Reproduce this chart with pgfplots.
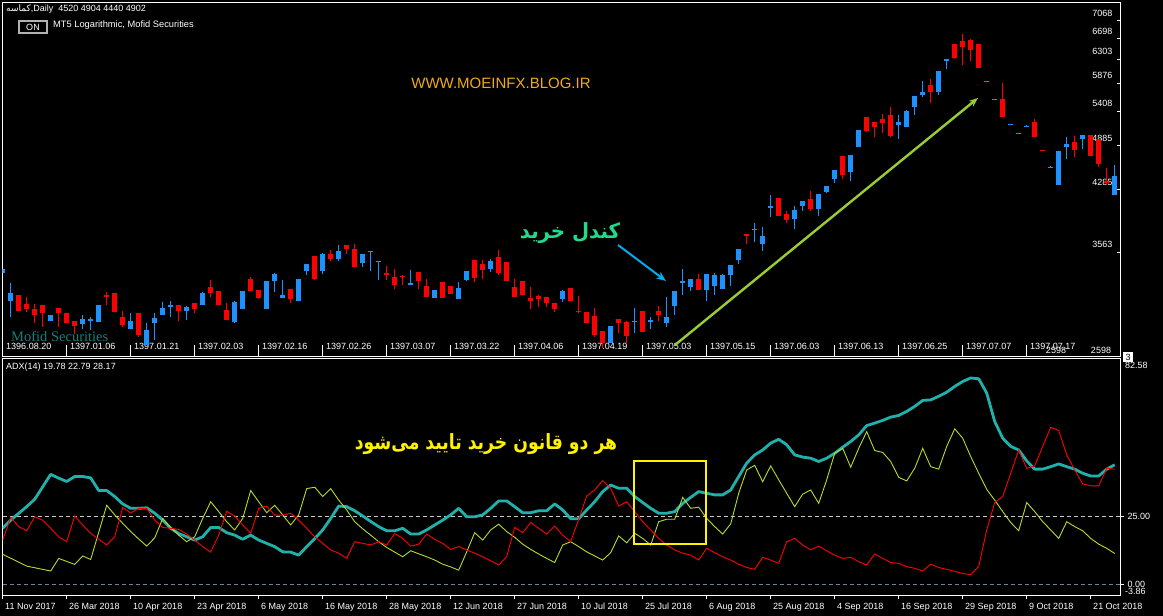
\documentclass[border=0pt]{standalone}
\usepackage{fontspec}
\setmainfont{Liberation Sans}
\newfontfamily\arabicfont[Script=Arabic]{DejaVu Sans}
\newfontfamily\seriffont{Liberation Serif}
\usepackage{graphicx}
\usepackage{pgfplots}
\pgfplotsset{compat=1.18}
\usetikzlibrary{arrows.meta}
\TeXXeTstate=1
\newcommand{\fs}[1]{\fontsize{#1}{#1}\selectfont}
\definecolor{upc}{RGB}{30,144,255}
\definecolor{dnc}{RGB}{255,0,0}
\definecolor{adxc}{RGB}{32,178,170}
\definecolor{pdic}{RGB}{180,220,45}
\definecolor{lvl}{RGB}{200,200,200}
\definecolor{zlvl}{RGB}{112,128,160}
\definecolor{urlc}{RGB}{240,170,20}
\definecolor{buyc}{RGB}{30,220,140}
\definecolor{arrc}{RGB}{154,205,50}
\definecolor{mofidc}{RGB}{25,125,125}

\begin{document}
\begin{tikzpicture}[x=1pt,y=1pt]
\fill[black] (0,0) rectangle (1163,616);

% price panel
\begin{axis}[
  at={(2.7pt,260pt)}, anchor=south west,
  scale only axis, width=1117.3pt, height=353.3pt,
  xmin=0, xmax=139.66,
  ymode=log, ymin=2619, ymax=7455,
  axis line style={white, line width=0.8pt},
  tick style={white, line width=0.8pt},
  major tick length=3pt, tick align=inside,
  xtick pos=bottom, ytick pos=right,
  xtick=\empty,
  extra x ticks={0,8,...,128},
  extra x tick labels={1396.08.20,1397.01.06,1397.01.21,1397.02.03,1397.02.16,1397.02.26,1397.03.07,1397.03.22,1397.04.06,1397.04.19,1397.05.03,1397.05.15,1397.06.03,1397.06.13,1397.06.25,1397.07.07,1397.07.17},
  extra x tick style={major tick length=11pt, tick align=inside, xticklabel style={anchor=south west, xshift=0pt, yshift=1pt, text height=6.5pt, text depth=1.5pt}},
  ytick={3563,4285,4885,5408,5876,6303,6698,7068},
  yticklabels={3563,4285,4885,5408,5876,6303,6698,7068},
  yticklabel style={anchor=east, xshift=-4pt, yshift=7.5pt},
  ticklabel style={text=white, font=\fs{9}},
  unbounded coords=jump, no markers,
]
% down candles: wicks
\addplot[dnc, line width=1pt] coordinates {
(2,3135)(2,2995)(2,nan) (3,3122)(3,2986)(3,nan) (4,3055)(4,2890)(4,nan) (5,3043)(5,2856)(5,nan)
(7,3019)(7,2856)(7,nan) (8,2972)(8,2890)(8,nan) (9,2907)(9,2795)(9,nan) (13,3165)(13,3049)(13,nan)
(14,3159)(14,2983)(14,nan) (15,2990)(15,2851)(15,nan) (17,2972)(17,2768)(17,nan) (22,3043)(22,2907)(22,nan)
(24,3061)(24,2972)(24,nan) (26,3280)(26,3122)(26,nan) (27,3172)(27,3043)(27,nan) (28,3067)(28,2913)(28,nan)
(31,3312)(31,3177)(31,nan) (32,3184)(32,3097)(32,nan) (36,3191)(36,3067)(36,nan) (39,3522)(39,3280)(39,nan)
(41,3584)(41,3473)(41,nan) (43,3635)(43,3542)(43,nan) (44,3645)(44,3412)(44,nan) (48,3416)(48,3283)(48,nan)
(49,3385)(49,3191)(49,nan) (50,3332)(50,3229)(50,nan) (52,3358)(52,3196)(52,nan) (53,3287)(53,3122)(53,nan)
(55,3261)(55,3110)(55,nan) (56,3222)(56,3147)(56,nan) (59,3480)(59,3261)(59,nan) (60,3480)(60,3287)(60,nan)
(62,3584)(62,3326)(62,nan) (63,3460)(63,3273)(63,nan) (64,3287)(64,3122)(64,nan) (65,3267)(65,3135)(65,nan)
(66,3216)(66,3013)(66,nan) (67,3135)(67,3031)(67,nan) (68,3116)(68,3031)(68,nan) (69,3061)(69,2983)(69,nan)
(71,3203)(71,3079)(71,nan) (72,3128)(72,2972)(72,nan) (73,2983)(73,2885)(73,nan) (74,3019)(74,2768)(74,nan)
(75,2817)(75,2682)(75,nan) (77,2924)(77,2806)(77,nan) (78,2907)(78,2724)(78,nan) (80,2995)(80,2812)(80,nan)
(82,3037)(82,2902)(82,nan) (87,3339)(87,3184)(87,nan) (93,3759)(93,3646)(93,nan) (97,4181)(97,3964)(97,nan)
(98,4020)(98,3886)(98,nan) (101,4265)(101,4027)(101,nan) (105,4735)(105,4427)(105,nan) (108,5310)(108,5084)(108,nan)
(109,5236)(109,5005)(109,nan) (110,5362)(110,5074)(110,nan) (111,5470)(111,5005)(111,nan) (116,5942)(116,5545)(116,nan)
(119,6597)(119,6316)(119,nan) (120,6796)(120,6194)(120,nan) (121,6689)(121,6267)(121,nan) (122,6597)(122,6145)(122,nan)
(125,5883)(125,5320)(125,nan) (129,5288)(129,5005)(129,nan) (130,4820)(130,4806)(130,nan) (134,5025)(134,4726)(134,nan)
(136,5035)(136,4735)(136,nan) (137,4984)(137,4588)(137,nan) (138,4570)(138,4358)(138,nan)
};
% up candles: wicks
\addplot[upc, line width=1pt] coordinates {
(0,3388)(0,3349)(0,nan) (1,3254)(1,2937)(1,nan) (6,2954)(6,2902)(6,nan) (10,2954)(10,2834)(10,nan)
(11,2937)(11,2828)(11,nan) (12,3043)(12,2896)(12,nan) (16,2977)(16,2839)(16,nan) (18,2890)(18,2708)(18,nan)
(19,2972)(19,2746)(19,nan) (20,3073)(20,2960)(20,nan) (21,3079)(21,2942)(21,nan) (23,3037)(23,2913)(23,nan)
(25,3165)(25,3049)(25,nan) (29,3085)(29,2890)(29,nan) (30,3172)(30,3007)(30,nan) (33,3267)(33,3013)(33,nan)
(34,3352)(34,3165)(34,nan) (35,3280)(35,3110)(35,nan) (37,3287)(37,3079)(37,nan) (38,3439)(38,3326)(38,nan)
(40,3550)(40,3339)(40,nan) (42,3641)(42,3467)(42,nan) (45,3542)(45,3409)(45,nan) (46,3571)(46,3371)(46,nan)
(47,3467)(47,3280)(47,nan) (51,3378)(51,3229)(51,nan) (54,3184)(54,3110)(54,nan) (57,3261)(57,3103)(57,nan)
(58,3365)(58,3267)(58,nan) (61,3494)(61,3358)(61,nan) (70,3184)(70,3073)(70,nan) (76,2862)(76,2724)(76,nan)
(79,3019)(79,2806)(79,nan) (81,2937)(81,2839)(81,nan) (83,3116)(83,2856)(83,nan) (84,3177)(84,2954)(84,nan)
(85,3385)(85,3135)(85,nan) (86,3287)(86,3177)(86,nan) (88,3339)(88,3085)(88,nan) (89,3346)(89,3135)(89,nan)
(90,3339)(90,3191)(90,nan) (91,3426)(91,3220)(91,nan) (92,3595)(92,3442)(92,nan) (94,3879)(94,3670)(94,nan)
(95,3834)(95,3577)(95,nan) (96,4215)(96,3956)(96,nan) (99,4083)(99,3818)(99,nan) (100,4148)(100,4027)(100,nan)
(102,4231)(102,3964)(102,nan) (103,4333)(103,4247)(103,nan) (104,4543)(104,4375)(104,nan) (106,4750)(106,4397)(106,nan)
(107,5114)(107,4868)(107,nan) (112,5342)(112,4984)(112,nan) (113,5426)(113,5165)(113,nan) (114,5656)(114,5342)(114,nan)
(115,5908)(115,5634)(115,nan) (117,6085)(117,5678)(117,nan) (118,6310)(118,6132)(118,nan) (123,5904)(123,5887)(123,nan)
(124,5606)(124,5589)(124,nan) (126,5206)(126,5191)(126,nan) (127,5069)(127,5054)(127,nan) (128,5191)(128,5156)(128,nan)
(131,4597)(131,4570)(131,nan) (132,4806)(132,4349)(132,nan) (133,5014)(133,4697)(133,nan) (135,5035)(135,4839)(135,nan)
(139,4615)(139,4222)(139,nan)
};
% down candles: bodies
\addplot[dnc, line width=5pt] coordinates {
(2,3135)(2,2995)(2,nan) (3,3055)(3,3013)(3,nan) (4,3007)(4,2960)(4,nan) (5,3043)(5,2977)(5,nan)
(7,3019)(7,2972)(7,nan) (8,2972)(8,2890)(8,nan) (9,2907)(9,2862)(9,nan) (13,3135)(13,3116)(13,nan)
(14,3159)(14,2983)(14,nan) (15,2942)(15,2873)(15,nan) (17,2972)(17,2785)(17,nan) (22,3043)(22,2995)(22,nan)
(24,3061)(24,3007)(24,nan) (26,3210)(26,3153)(26,nan) (27,3172)(27,3043)(27,nan) (28,3001)(28,2913)(28,nan)
(31,3293)(31,3177)(31,nan) (32,3184)(32,3110)(32,nan) (36,3191)(36,3103)(36,nan) (39,3522)(39,3293)(39,nan)
(41,3542)(41,3494)(41,nan) (43,3635)(43,3592)(43,nan) (44,3592)(44,3412)(44,nan) (48,3346)(48,3329)(48,nan)
(49,3309)(49,3235)(49,nan) (50,3319)(50,3306)(50,nan) (52,3358)(52,3273)(52,nan) (53,3222)(53,3122)(53,nan)
(55,3261)(55,3110)(55,nan) (56,3222)(56,3147)(56,nan) (59,3480)(59,3300)(59,nan) (60,3439)(60,3378)(60,nan)
(62,3514)(62,3346)(62,nan) (63,3460)(63,3273)(63,nan) (64,3210)(64,3122)(64,nan) (65,3267)(65,3135)(65,nan)
(66,3110)(66,3085)(66,nan) (67,3128)(67,3103)(67,nan) (68,3116)(68,3067)(68,nan) (69,3061)(69,3013)(69,nan)
(71,3203)(71,3079)(71,nan) (72,2990)(72,2981)(72,nan) (73,2983)(73,2885)(73,nan) (74,2948)(74,2790)(74,nan)
(75,2817)(75,2720)(75,nan) (77,2924)(77,2890)(77,nan) (78,2896)(78,2779)(78,nan) (80,2995)(80,2812)(80,nan)
(82,2995)(82,2960)(82,nan) (87,3287)(87,3184)(87,nan) (93,3759)(93,3740)(93,nan) (97,4181)(97,3964)(97,nan)
(98,3988)(98,3917)(98,nan) (101,4165)(101,4051)(101,nan) (105,4735)(105,4480)(105,nan) (108,5310)(108,5104)(108,nan)
(109,5236)(109,5165)(109,nan) (110,5288)(110,5226)(110,nan) (111,5342)(111,5025)(111,nan) (116,5838)(116,5723)(116,nan)
(119,6597)(119,6329)(119,nan) (120,6650)(120,6545)(120,nan) (121,6675)(121,6481)(121,nan) (122,6597)(122,6145)(122,nan)
(125,5601)(125,5320)(125,nan) (129,5236)(129,5005)(129,nan) (130,4820)(130,4806)(130,nan) (134,4936)(134,4820)(134,nan)
(136,5035)(136,4735)(136,nan) (137,4984)(137,4625)(137,nan) (138,4401)(138,4367)(138,nan)
};
% up candles: bodies
\addplot[upc, line width=5pt] coordinates {
(0,3388)(0,3349)(0,nan) (1,3159)(1,3085)(1,nan) (6,2954)(6,2902)(6,nan) (10,2924)(10,2879)(10,nan)
(11,2924)(11,2907)(11,nan) (12,3043)(12,2896)(12,nan) (16,2907)(16,2839)(16,nan) (18,2828)(18,2708)(18,nan)
(19,2931)(19,2890)(19,nan) (20,3019)(20,2960)(20,nan) (21,3043)(21,3031)(21,nan) (23,3025)(23,2995)(23,nan)
(25,3153)(25,3049)(25,nan) (29,3073)(29,2896)(29,nan) (30,3172)(30,3007)(30,nan) (33,3267)(33,3013)(33,nan)
(34,3339)(34,3267)(34,nan) (35,3135)(35,3110)(35,nan) (37,3287)(37,3079)(37,nan) (38,3439)(38,3365)(38,nan)
(40,3542)(40,3371)(40,nan) (42,3577)(42,3494)(42,nan) (45,3542)(45,3452)(45,nan) (46,3571)(46,3560)(46,nan)
(47,3467)(47,3457)(47,nan) (51,3254)(51,3229)(51,nan) (54,3184)(54,3110)(54,nan) (57,3203)(57,3103)(57,nan)
(58,3365)(58,3280)(58,nan) (61,3467)(61,3385)(61,nan) (70,3172)(70,3103)(70,nan) (76,2862)(76,2724)(76,nan)
(79,2902)(79,2893)(79,nan) (81,2913)(81,2896)(81,nan) (83,2937)(83,2890)(83,nan) (84,3177)(84,3037)(84,nan)
(85,3267)(85,3254)(85,nan) (86,3287)(86,3210)(86,nan) (88,3339)(88,3184)(88,nan) (89,3326)(89,3222)(89,nan)
(90,3326)(90,3191)(90,nan) (91,3426)(91,3332)(91,nan) (92,3595)(92,3483)(92,nan) (94,3818)(94,3803)(94,nan)
(95,3736)(95,3649)(95,nan) (96,4083)(96,4059)(96,nan) (99,4035)(99,3932)(99,nan) (100,4148)(100,4083)(100,nan)
(102,4231)(102,4051)(102,nan) (103,4333)(103,4256)(103,nan) (104,4543)(104,4427)(104,nan) (106,4750)(106,4516)(106,nan)
(107,5114)(107,4868)(107,nan) (112,5236)(112,5195)(112,nan) (113,5415)(113,5165)(113,nan) (114,5656)(114,5470)(114,nan)
(115,5723)(115,5668)(115,nan) (117,6085)(117,5723)(117,nan) (118,6310)(118,6267)(118,nan) (123,5904)(123,5887)(123,nan)
(124,5606)(124,5589)(124,nan) (126,5206)(126,5191)(126,nan) (127,5069)(127,5054)(127,nan) (128,5171)(128,5156)(128,nan)
(131,4584)(131,4570)(131,nan) (132,4806)(132,4349)(132,nan) (133,4907)(133,4859)(133,nan) (135,5035)(135,4984)(135,nan)
(139,4463)(139,4222)(139,nan)
};
\end{axis}

% ADX panel
\begin{axis}[
  at={(2.7pt,21pt)}, anchor=south west,
  scale only axis, width=1117.3pt, height=236.7pt,
  xmin=0, xmax=139.66, ymin=-3.86, ymax=82.58,
  axis line style={white, line width=0.8pt},
  tick style={white, line width=0.8pt},
  major tick length=4pt, tick align=outside,
  xtick pos=bottom, ytick pos=right,
  xtick={0,8,...,136},
  xticklabels={11 Nov 2017,26 Mar 2018,10 Apr 2018,23 Apr 2018,6 May 2018,16 May 2018,28 May 2018,12 Jun 2018,27 Jun 2018,10 Jul 2018,25 Jul 2018,6 Aug 2018,25 Aug 2018,4 Sep 2018,16 Sep 2018,29 Sep 2018,9 Oct 2018,21 Oct 2018},
  xticklabel style={anchor=north west, xshift=-1pt, text height=6.5pt, text depth=1.5pt},
  ytick={0,25}, yticklabels={0.00,25.00},
  yticklabel style={anchor=west},
  ticklabel style={text=white, font=\fs{9}},
  no markers,
]
\addplot[lvl, line width=0.8pt, dash pattern=on 4pt off 3pt] coordinates {(0,25)(139.66,25)};
\addplot[zlvl, line width=0.8pt, dash pattern=on 4pt off 3pt] coordinates {(0,0)(139.66,0)};
% ADX main line
\addplot[adxc, line width=2.8pt, line join=round] coordinates {
(0,20.5)(1,23.5)(3,28.4)(4,31.1)(6,40.2)(7,38.8)(8,37.6)(9,39.4)(10,39.4)(11,38.9)(12,34.3)(13,34.3)
(14,32.1)(15,29.4)(16,27.8)(17,27.8)(18,28.0)(19,26.0)(20,23.5)(21,20.5)(22,18.6)(23,17.4)(24,16.2)
(25,17.4)(26,20.8)(27,20.8)(28,18.9)(29,18.0)(30,16.5)(31,18.0)(32,16.2)(33,15.0)(34,13.8)(35,11.9)
(36,11.8)(37,10.7)(38,13.8)(39,16.7)(40,19.9)(41,24.1)(42,28.6)(43,28.4)(44,26.9)(45,25.0)(46,23.0)
(47,21.1)(48,19.6)(49,19.6)(50,20.5)(51,18.4)(52,18.4)(53,19.9)(54,21.7)(55,23.5)(56,25.4)(57,27.8)
(58,24.7)(59,24.7)(60,25.4)(61,27.8)(62,30.5)(63,30.5)(64,28.4)(65,26.2)(66,26.2)(67,26.9)(68,26.9)
(69,29.4)(70,27.2)(71,24.0)(72,24.0)(73,27.2)(74,30.2)(75,33.9)(76,36.3)(77,35.1)(78,35.1)(79,32.1)
(80,29.9)(81,27.8)(82,26.0)(83,26.0)(84,26.6)(85,29.6)(86,31.8)(87,33.9)(88,33.3)(89,32.7)(90,32.7)
(91,34.5)(92,39.4)(93,44.3)(94,47.3)(95,49.1)(96,51.6)(97,53.0)(98,51.0)(99,47.3)(100,46.5)(101,46.1)
(102,44.9)(103,46.1)(104,47.9)(105,50.1)(106,52.2)(107,54.6)(108,58.0)(109,58.9)(110,59.9)(111,61.1)
(112,61.7)(113,63.2)(114,65.0)(115,67.2)(116,67.4)(117,68.7)(118,70.2)(119,72.3)(120,74.1)(121,75.4)
(122,75.1)(123,69.9)(124,59.5)(125,53.4)(126,50.4)(127,49.1)(128,45.1)(129,42.1)(130,42.1)(131,43.0)
(132,44.0)(133,43.0)(134,42.1)(135,40.6)(136,39.6)(137,39.6)(138,42.1)(139,43.7)
};
% +DI
\addplot[pdic, line width=0.9pt] coordinates {
(0,11.0)(3,6.7)(6,4.9)(7,9.5)(9,7.3)(10,10.4)(11,9.1)(13,28.9)(14,25.4)(15,22.3)(16,19.3)(17,16.6)
(18,14.0)(19,17.0)(20,24.1)(21,20.8)(22,18.0)(23,15.6)(24,17.4)(25,24.1)(26,30.2)(27,26.6)(28,22.9)
(29,19.9)(30,24.1)(31,34.3)(32,30.2)(33,26.2)(34,28.9)(35,25.4)(36,21.7)(37,25.4)(38,35.0)(39,35.5)
(40,32.1)(41,35.0)(42,30.8)(43,27.2)(44,22.9)(45,20.3)(46,18.0)(47,15.6)(48,13.5)(49,11.8)(50,10.1)
(51,12.3)(52,11.2)(53,10.1)(54,8.9)(55,7.4)(56,6.4)(57,5.2)(58,11.9)(59,18.9)(60,16.2)(61,19.9)
(62,22.0)(63,19.3)(64,17.2)(65,14.7)(66,12.8)(67,11.1)(68,9.5)(69,8.0)(70,14.4)(71,15.6)(72,13.8)
(73,11.9)(74,10.4)(75,8.9)(76,11.6)(77,17.7)(78,15.2)(79,18.7)(80,16.8)(81,14.4)(82,22.9)(83,23.8)
(84,23.8)(85,31.8)(86,27.8)(87,28.2)(88,24.1)(89,21.1)(90,18.4)(91,22.1)(92,33.3)(93,41.8)(94,43.5)
(95,37.5)(96,43.3)(97,38.2)(98,33.3)(99,28.4)(100,33.0)(101,34.5)(102,29.6)(103,38.2)(104,47.9)
(105,49.7)(106,42.8)(107,49.7)(108,55.8)(109,48.9)(110,48.2)(111,44.9)(112,39.1)(113,37.8)(114,42.4)
(115,49.7)(116,43.0)(117,42.1)(118,50.4)(119,56.8)(120,53.4)(121,46.7)(122,40.6)(123,34.7)(124,30.8)
(125,26.6)(126,22.6)(127,19.6)(128,29.9)(129,26.6)(130,22.9)(131,19.9)(132,16.8)(133,22.9)(134,21.1)
(135,19.6)(136,16.8)(137,14.7)(138,13.2)(139,11.3)
};
% -DI
\addplot[dnc, line width=0.9pt] coordinates {
(0,16.2)(1,24.5)(2,21.1)(3,19.6)(4,24.7)(5,23.5)(6,20.5)(7,17.4)(8,15.6)(9,25.0)(10,21.7)(11,18.6)
(12,16.5)(13,14.4)(14,17.4)(15,28.1)(16,26.1)(17,27.8)(18,27.8)(19,23.5)(20,20.8)(21,20.5)(22,20.1)
(23,18.4)(24,16.2)(25,13.8)(26,11.8)(27,18.0)(28,26.7)(29,25.0)(30,21.7)(31,18.6)(32,27.8)(33,28.6)
(34,25.3)(35,25.3)(36,26.0)(37,23.5)(38,20.5)(39,17.4)(40,15.0)(41,12.6)(42,11.4)(43,9.5)(44,15.6)
(45,15.0)(46,14.4)(47,15.6)(48,14.4)(49,18.6)(50,16.8)(51,14.0)(52,14.7)(53,18.4)(54,16.5)(55,15.0)
(56,12.8)(57,13.8)(58,12.6)(59,11.4)(60,10.1)(61,8.6)(62,7.1)(63,10.1)(64,20.8)(65,18.9)(66,22.6)
(67,20.5)(68,18.4)(69,21.3)(70,18.0)(71,15.6)(72,23.8)(73,32.3)(74,34.5)(75,37.9)(76,35.1)(77,28.6)
(78,30.2)(79,26.6)(80,22.9)(81,19.9)(82,16.8)(83,14.4)(84,12.6)(85,11.4)(86,10.7)(87,8.9)(88,13.2)
(89,11.6)(90,10.1)(91,8.9)(92,7.4)(93,6.2)(94,5.5)(95,9.9)(96,8.9)(97,7.7)(98,15.6)(99,16.8)(100,14.4)
(101,12.6)(102,14.0)(103,12.3)(104,10.7)(105,9.5)(106,9.9)(107,8.3)(108,7.1)(109,11.1)(110,9.5)
(111,8.0)(112,7.7)(113,6.5)(114,5.9)(115,4.9)(116,7.4)(117,6.2)(118,5.5)(119,4.8)(120,4.0)(121,3.6)
(122,6.5)(123,19.9)(124,29.9)(125,32.1)(126,40.6)(127,49.1)(128,42.4)(129,43.3)(130,50.4)(131,57.4)
(132,56.2)(133,47.3)(134,41.8)(135,36.7)(136,36.0)(137,36.0)(138,42.4)(139,42.1)
};
\end{axis}

% annotations, in image pixel coordinates (y downwards)
\begin{scope}[shift={(0,616)}, yscale=-1]
\node[anchor=west, text=white, font=\fs{9}, inner sep=0pt] at (6,9.5) {{\arabicfont\beginR کماسه\endR},Daily\ \ 4520 4904 4440 4902};
\draw[gray!60, line width=1.2pt, fill=black] (19,21) rectangle (47,33);
\node[text=white, font=\fs{9}, inner sep=0pt] at (33,27.5) {ON};
\node[anchor=west, text=white, font=\fs{9.3}, inner sep=0pt] at (53,25.5) {MT5 Logarithmic, Mofid Securities};
\node[text=urlc, font=\fs{15}] at (501,83) {WWW.MOEINFX.BLOG.IR};
\node[text=buyc, font=\arabicfont\bfseries\fs{21}] at (570,233) {\scalebox{0.94}[1]{\beginR کندل خرید\endR}};
\draw[cyan, line width=2pt, -{Stealth[length=10pt,width=8pt]}] (618,245) -- (666,281);
\draw[arrc, line width=2.4pt, -{Stealth[length=9pt,width=7pt]}] (675,345) -- (978,98);
\node[anchor=west, text=mofidc, font=\seriffont\fs{14.5}, inner sep=0pt] at (11,336) {Mofid Securities};
\node[text=white, font=\fs{9}] at (1056,350) {2598};
\node[text=white, font=\fs{9}] at (1101,350) {2598};
\node[fill=white, text=black, font=\fs{9}, inner sep=1pt, minimum size=10pt] at (1128,357) {3};
\node[anchor=west, text=white, font=\fs{9}, inner sep=0pt] at (6,367) {ADX(14) 19.78 22.79 28.17};
\node[anchor=west, text=white, font=\fs{9}, inner sep=0pt] at (1125,365) {82.58};
\node[anchor=west, text=white, font=\fs{9}, inner sep=0pt] at (1125,591) {-3.86};
\node[text=yellow, font=\arabicfont\bfseries\fs{21}] at (486,444) {\scalebox{0.82}[1]{\beginR هر دو قانون خرید تایید می‌شود\endR}};
\draw[yellow, line width=2pt] (634,461) rectangle (706,544);
\end{scope}
\pgfresetboundingbox
\path[use as bounding box] (0,0) rectangle (1163,616);
\end{tikzpicture}
\end{document}
